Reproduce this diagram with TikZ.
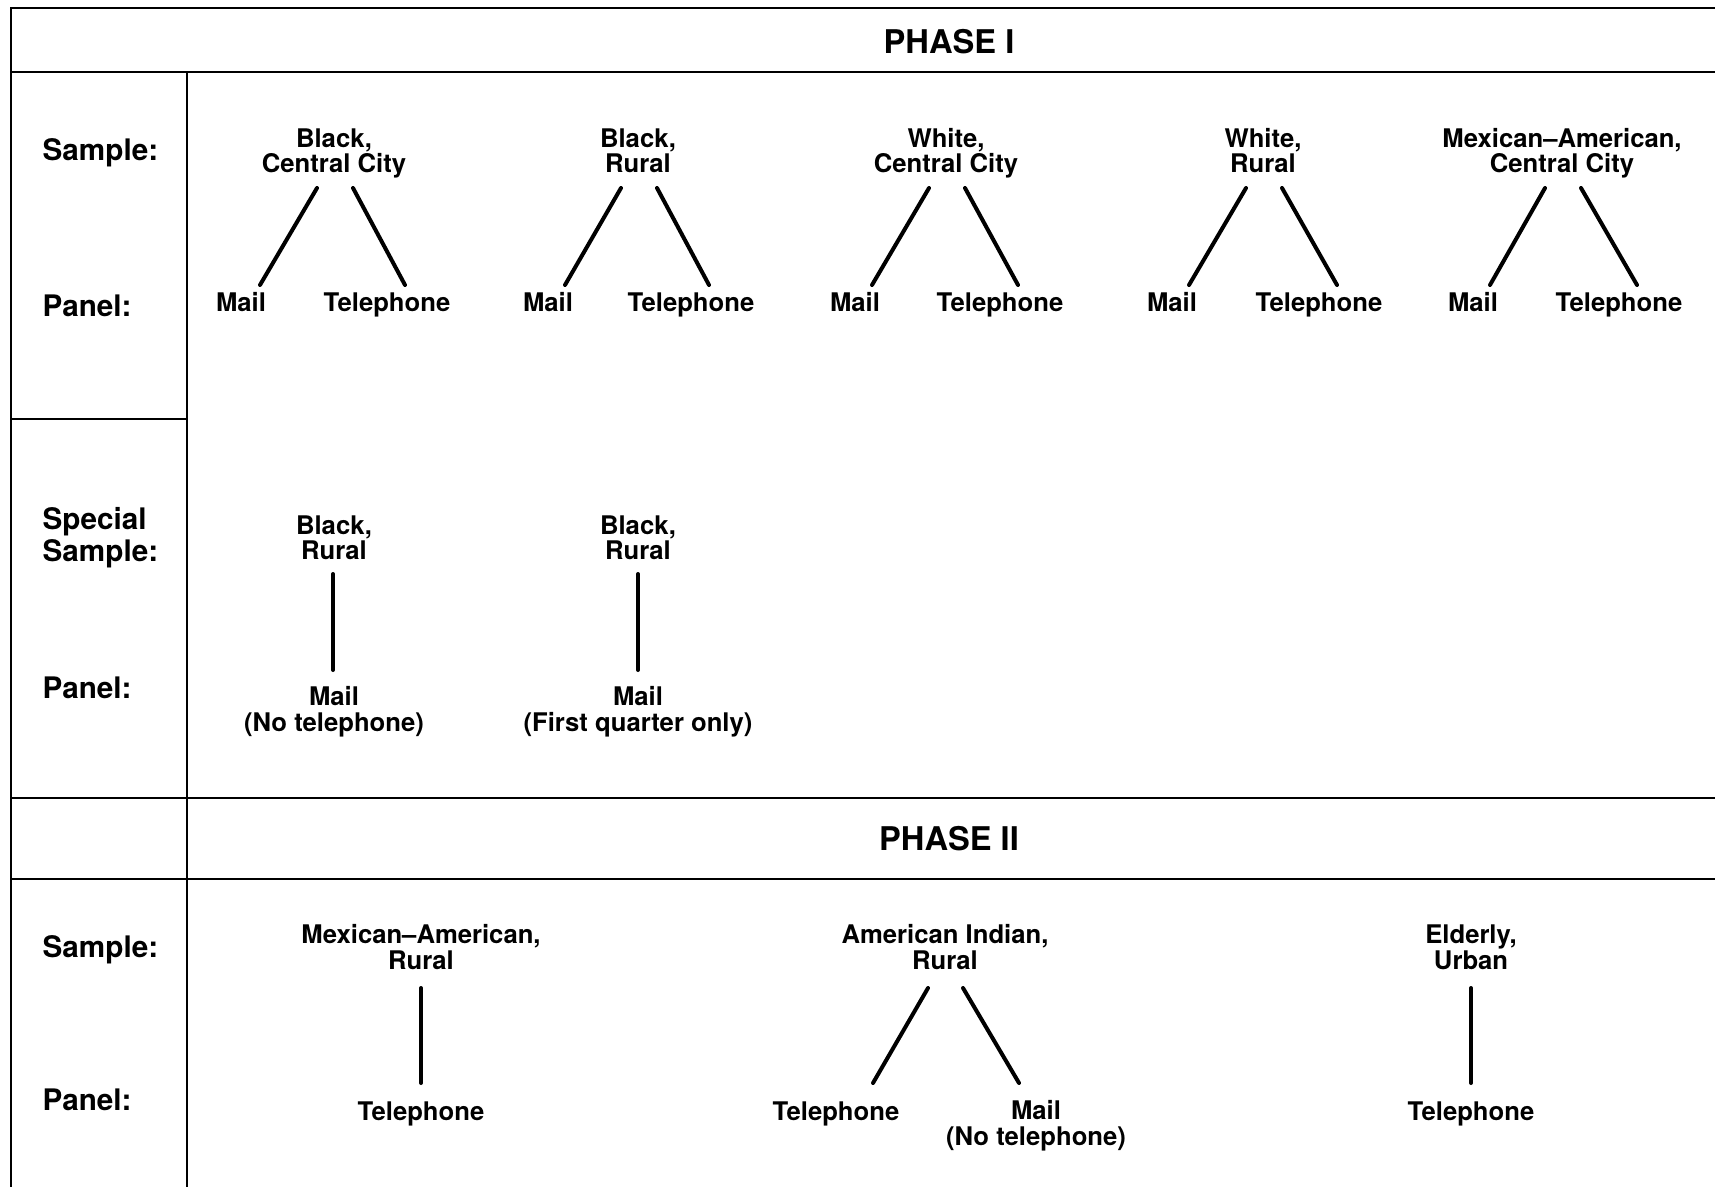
\documentclass[tikz,border=0pt]{standalone}
\usepackage{fontspec}
\setmainfont{TeX Gyre Heros}
\usetikzlibrary{positioning,calc}

\tikzset{
  grp/.style={anchor=base, align=center, inner sep=0pt, font=\bfseries\fontsize{7.7}{7.6}\selectfont},
  lbl/.style={anchor=base west, align=left, inner sep=0pt, font=\bfseries\fontsize{8.9}{8.4}\selectfont},
  phase/.style={inner sep=0pt, font=\bfseries\fontsize{9.8}{10}\selectfont},
  rule/.style={line width=0.75pt},
  leg/.style={line width=1.2pt, line cap=round},
}

\begin{document}
\begin{tikzpicture}[x=0.3pt, y=-0.3pt]
\useasboundingbox (0,0) rectangle (1715,1187);
% frame and rules
\draw[rule] (1715,8) -- (11,8) -- (11,1187);
\draw[rule] (11,72) -- (1715,72);
\draw[rule] (187,72) -- (187,1187);
\draw[rule] (11,419) -- (187,419);
\draw[rule] (11,798) -- (1715,798);
\draw[rule] (11,879) -- (1715,879);
% headings
\node[phase] (ph1) at (949,42) {PHASE I};
\node[phase] (ph2) at (949,839) {PHASE II};
% row labels (base = last line)
\node[lbl] (lsam1) at (42,161) {Sample:};
\node[lbl] (lpan1) at (42,317) {Panel:};
\node[lbl] (lspec) at (42,561) {Special\\Sample:};
\node[lbl] (lpan2) at (42,698) {Panel:};
\node[lbl] (lsam2) at (42,957) {Sample:};
\node[lbl] (lpan3) at (42,1110) {Panel:};
% phase I samples
\node[grp] (s1) at (334,173) {Black,\\Central City};
\node[grp] (s2) at (638,173) {Black,\\Rural};
\node[grp] (s3) at (946,173) {White,\\Central City};
\node[grp] (s4) at (1263,173) {White,\\Rural};
\node[grp] (s5) at (1562,173) {Mexican--American,\\Central City};
% phase I panels
\node[grp] (m1) at (241,312) {Mail};
\node[grp] (t1) at (387,312) {Telephone};
\node[grp] (m2) at (548,312) {Mail};
\node[grp] (t2) at (691,312) {Telephone};
\node[grp] (m3) at (855,312) {Mail};
\node[grp] (t3) at (1000,312) {Telephone};
\node[grp] (m4) at (1172,312) {Mail};
\node[grp] (t4) at (1319,312) {Telephone};
\node[grp] (m5) at (1473,312) {Mail};
\node[grp] (t5) at (1619,312) {Telephone};
% legs
\draw[leg] ($(s1.base)+(-17,15)$) -- ($(m1.base)+(19,-27)$);
\draw[leg] ($(s1.base)+(19,15)$) -- ($(t1.base)+(18,-27)$);
\draw[leg] ($(s2.base)+(-17,15)$) -- ($(m2.base)+(17,-27)$);
\draw[leg] ($(s2.base)+(19,15)$) -- ($(t2.base)+(18,-27)$);
\draw[leg] ($(s3.base)+(-17,15)$) -- ($(m3.base)+(17,-27)$);
\draw[leg] ($(s3.base)+(19,15)$) -- ($(t3.base)+(18,-27)$);
\draw[leg] ($(s4.base)+(-17,15)$) -- ($(m4.base)+(17,-27)$);
\draw[leg] ($(s4.base)+(19,15)$) -- ($(t4.base)+(18,-27)$);
\draw[leg] ($(s5.base)+(-17,15)$) -- ($(m5.base)+(17,-27)$);
\draw[leg] ($(s5.base)+(19,15)$) -- ($(t5.base)+(18,-27)$);
% special samples
\node[grp] (x1) at (334,560) {Black,\\Rural};
\node[grp] (x2) at (638,560) {Black,\\Rural};
\node[grp] (xm1) at (334,731) {Mail\\(No telephone)};
\node[grp] (xm2) at (638,731) {Mail\\(First quarter only)};
\draw[leg] ($(x1.base)+(-1,14)$) -- ($(xm1.base)+(-1,-61)$);
\draw[leg] ($(x2.base)+(0,14)$) -- ($(xm2.base)+(0,-61)$);
% phase II samples
\node[grp] (p1) at (421,969) {Mexican--American,\\Rural};
\node[grp] (p2) at (945,969) {American Indian,\\Rural};
\node[grp] (p3) at (1471,969) {Elderly,\\Urban};
\node[grp] (pt1) at (421,1120) {Telephone};
\node[grp] (pt2) at (836,1120) {Telephone};
\node[grp] (pm2) at (1036,1145) {Mail\\(No telephone)};
\node[grp] (pt3) at (1471,1120) {Telephone};
\draw[leg] ($(p1.base)+(0,19)$) -- ($(pt1.base)+(0,-37)$);
\draw[leg] ($(p2.base)+(-17,19)$) -- ($(pt2.base)+(37,-37)$);
\draw[leg] ($(p2.base)+(18,19)$) -- ($(pm2.base)+(-17,-62)$);
\draw[leg] ($(p3.base)+(0,19)$) -- ($(pt3.base)+(0,-37)$);
\end{tikzpicture}
\end{document}
